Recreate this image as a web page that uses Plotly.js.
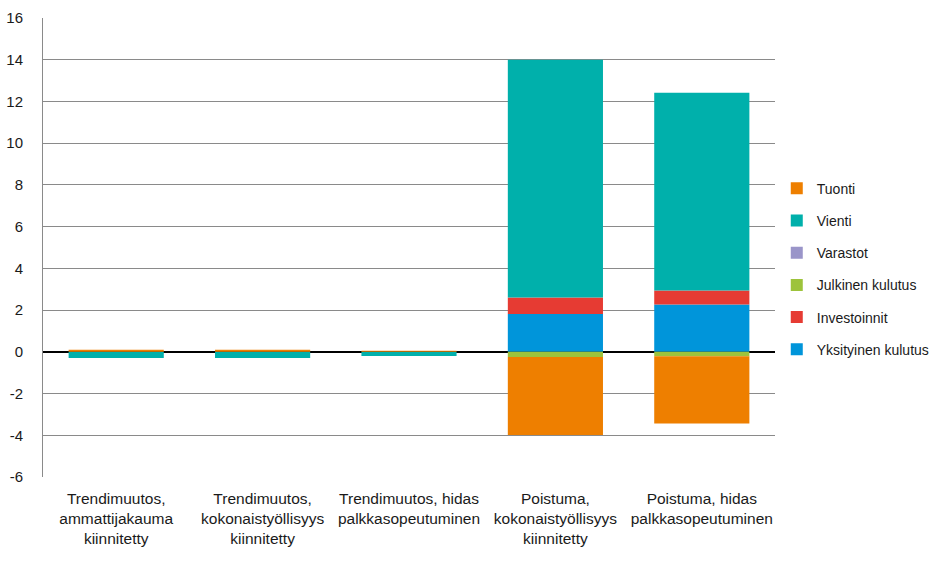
<!DOCTYPE html>
<html>
<head>
<meta charset="utf-8">
<script src="https://cdn.plot.ly/plotly-3.0.1.min.js"></script>
<style>html,body{margin:0;padding:0;background:#fff;}#chart{width:937px;height:562px;}</style>
</head>
<body>
<div id="chart"></div>
<script>
const categories = [
  "Trendimuutos,<br>ammattijakauma<br>kiinnitetty",
  "Trendimuutos,<br>kokonaistyöllisyys<br>kiinnitetty",
  "Trendimuutos, hidas<br>palkkasopeutuminen",
  "Poistuma,<br>kokonaistyöllisyys<br>kiinnitetty",
  "Poistuma, hidas<br>palkkasopeutuminen"
];
const yksityinenKulutus = [0, 0, 0, 1.81, 2.27];
const investoinnit = [0, 0, 0, 0.79, 0.67];
const julkinenKulutus = [0, 0, 0, -0.25, -0.21];
const varastot = [0, 0, 0, 0, 0];
const vienti = [-0.3, -0.3, -0.2, 11.4, 9.48];
const tuonti = [0.1, 0.1, 0.05, -3.74, -3.23];
const yTicks = [-6, -4, -2, 0, 2, 4, 6, 8, 10, 12, 14, 16];

const seriesNames = ["Yksityinen kulutus", "Investoinnit", "Julkinen kulutus", "Varastot", "Vienti", "Tuonti"];
const seriesValues = [yksityinenKulutus, investoinnit, julkinenKulutus, varastot, vienti, tuonti];
const seriesColors = ["#0095DA", "#E63B33", "#9DC33B", "#9A95C9", "#00B0AB", "#EE7F00"];

const font = "'Liberation Sans', 'Roboto', sans-serif";

const traces = seriesNames.map((n, i) => ({
  type: "bar",
  name: n,
  x: categories,
  y: seriesValues[i],
  marker: {color: seriesColors[i], line: {width: 0}},
  legendgroup: "g" + i,
  legendrank: 100 - i,
  hoverinfo: "name+y"
}));

const layout = {
  width: 937, height: 562,
  margin: {l: 43, r: 162, t: 18, b: 85},
  barmode: "relative",
  bargap: 0.35,
  paper_bgcolor: "#fff", plot_bgcolor: "#fff",
  font: {family: font, size: 15, color: "#1a1a1a"},
  showlegend: true,
  legend: {
    xref: "container", yref: "container",
    x: 0.829, xanchor: "left", y: 0.521, yanchor: "middle",
    traceorder: "grouped", tracegroupgap: 11,
    font: {family: font, size: 14, color: "#1a1a1a"},
    itemwidth: 30
  },
  xaxis: {
    type: "category",
    showgrid: false, zeroline: false,
    showline: false, tickangle: 0,
    ticks: "", ticklabelstandoff: 10,
    tickfont: {family: font, size: 15.5}
  },
  yaxis: {
    range: [-6, 16],
    tickvals: yTicks,
    ticktext: yTicks.map(String),
    showgrid: true, gridcolor: "#8a8a8a", gridwidth: 1,
    zeroline: true, zerolinecolor: "#000", zerolinewidth: 1.5,
    showline: true, linecolor: "#8a8a8a", linewidth: 1,
    ticks: "", ticklabelstandoff: 16,
    tickfont: {family: font, size: 15}
  }
};

Plotly.newPlot("chart", traces, layout, {displayModeBar: false, staticPlot: true});
</script>
</body>
</html>
